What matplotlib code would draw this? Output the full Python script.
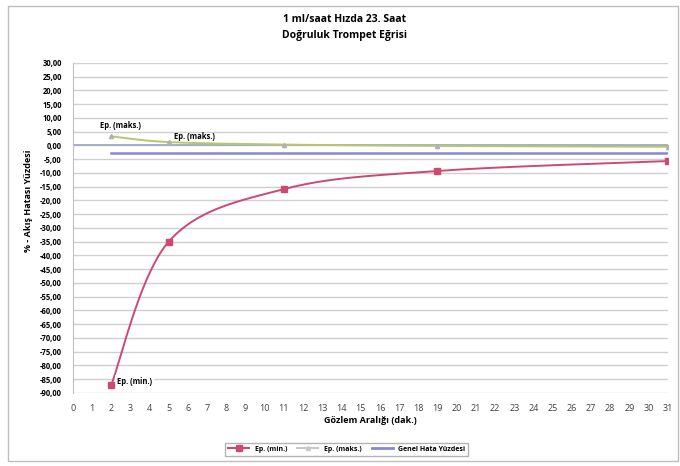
import numpy as np
import matplotlib.pyplot as plt
from matplotlib.patches import Rectangle

# veri
aralik = [2, 5, 11, 19, 31]
ep_min = [-87.2, -35.0, -15.9, -9.3, -5.7]
ep_maks = [3.3, 1.2, 0.3, -0.2, -0.5]
genel_hata = [-2.8, -2.8, -2.8, -2.8, -2.8]

baslik = "1 ml/saat Hızda 23. Saat\nDoğruluk Trompet Eğrisi"
eksenx = "Gözlem Aralığı (dak.)"
ekseny = "% - Akış Hatası Yüzdesi"
yticks = list(range(30, -95, -5))
xticks = list(range(0, 32))

plt.rcParams['font.family'] = ['Open Sans', 'DejaVu Sans']


def yumusat(x, y, n=40, gerilim=0.5):
    # Excel benzeri yumuşatılmış çizgi (kardinal spline)
    x = np.asarray(x, float)
    y = np.asarray(y, float)
    px = np.concatenate([[x[0]], x, [x[-1]]])
    py = np.concatenate([[y[0]], y, [y[-1]]])
    xs, ys = [], []
    t = np.linspace(0, 1, n)
    h00 = 2 * t ** 3 - 3 * t ** 2 + 1
    h10 = t ** 3 - 2 * t ** 2 + t
    h01 = -2 * t ** 3 + 3 * t ** 2
    h11 = t ** 3 - t ** 2
    for i in range(1, len(px) - 2):
        for p, out in ((px, xs), (py, ys)):
            m1 = gerilim * (p[i + 1] - p[i - 1])
            m2 = gerilim * (p[i + 2] - p[i])
            out.extend(h00 * p[i] + h10 * m1 + h01 * p[i + 1] + h11 * m2)
    return xs, ys


fig = plt.figure(figsize=(6.8, 4.66), dpi=100)
fig.patches.append(Rectangle((0.012, 0.01), 0.985, 0.978, transform=fig.transFigure,
                             fill=False, edgecolor='#BFBFBF', linewidth=1))
ax = fig.add_axes([0.107, 0.157, 0.875, 0.708])

renk_min = '#CC4A72'
renk_maks = '#B7C76E'
renk_genel = '#8888CC'

for yv in yticks:
    ax.axhline(yv, color='#D0D0D0', linewidth=1, zorder=0)
ax.axhline(0, color='#9AA5BC', linewidth=1.2, zorder=1)

xs, ys = yumusat(aralik, ep_min)
ax.plot(xs, ys, color=renk_min, linewidth=1.4, zorder=3)
ax.plot(aralik, ep_min, 's', color=renk_min, markersize=4, zorder=4)
xs, ys = yumusat(aralik, ep_maks)
ax.plot(xs, ys, color=renk_maks, linewidth=1.4, zorder=3)
ax.plot(aralik, ep_maks, '^', color='#B0B0B0', markersize=3, zorder=4)
ax.plot(aralik, genel_hata, color=renk_genel, linewidth=1.8, zorder=3)

# legend icin vekil cizgiler
ax.plot([], [], '-s', color=renk_min, markersize=4, label='Ep. (min.)')
ax.plot([], [], '-', color='#C8C8C8', marker='^', markersize=3, label='Ep. (maks.)')
ax.plot([], [], '-', color=renk_genel, linewidth=2, label='Genel Hata Yüzdesi')

ax.text(aralik[0] - 0.6, ep_maks[0] + 3, 'Ep. (maks.)', fontsize=5.5, fontweight='bold')
ax.text(aralik[1] + 0.3, ep_maks[1] + 1.3, 'Ep. (maks.)', fontsize=5.5, fontweight='bold')
ax.text(aralik[0] + 0.3, ep_min[0] + 0.4, 'Ep. (min.)', fontsize=5.5, fontweight='bold',
        bbox=dict(facecolor='white', edgecolor='none', pad=1.5))

ax.set_xlim(0, 31)
ax.set_ylim(-90, 30)
ax.set_xticks(xticks)
ax.set_yticks(yticks)
ax.set_yticklabels([f"{v:.2f}".replace('.', ',') for v in yticks],
                   fontsize=5.5, fontweight='bold')
ax.set_xticklabels([str(v) for v in xticks], fontsize=6.5, color='#404040')
ax.tick_params(length=0, pad=8)
for s in ax.spines.values():
    s.set_visible(False)
ax.spines['left'].set_visible(True)
ax.spines['left'].set_color('#C0C0C0')

fig.text(0.507, 0.97, baslik, ha='center', va='top', fontsize=7.5,
         fontweight='bold', linespacing=1.6)
fig.text(0.545, 0.098, eksenx, ha='center', va='center', fontsize=6.5, fontweight='bold')
fig.text(0.042, 0.57, ekseny, ha='center', va='center', rotation=90,
         fontsize=6.5, fontweight='bold')

leg = fig.legend(loc='center', bbox_to_anchor=(0.51, 0.036), ncol=3,
                 frameon=True, fancybox=False, edgecolor='#A0A0A0',
                 handlelength=3, columnspacing=1.5, prop={'weight': 'bold', 'size': 5})

fig.savefig('out.png', dpi=100)
